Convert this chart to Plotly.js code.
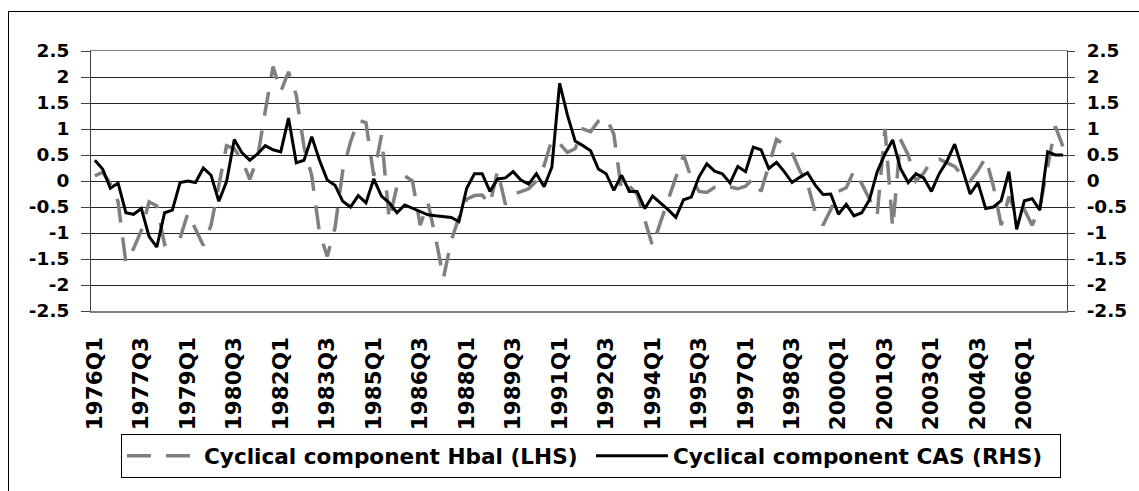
<!DOCTYPE html>
<html>
<head>
<meta charset="utf-8">
<script src="https://cdn.plot.ly/plotly-3.0.1.min.js"></script>
<style>
  body { margin: 0; background: #fff; }
  #wrap { position: relative; width: 1139px; height: 491px; overflow: hidden; }
  #plotly-div { width: 1139px; height: 491px; }
  /* outer chart frame: only its left and top edges fall inside the picture */
  #frame { position: absolute; left: 8px; top: 11px; width: 1200px; height: 600px;
           border-left: 1px solid #000; border-top: 1px solid #000; pointer-events: none; }
</style>
</head>
<body>
<div id="wrap">
  <div id="plotly-div"></div>
  <div id="frame"></div>
</div>
<script>
// Quarterly categories, 1976Q1 .. 2007Q2
var firstYear = 1976;
var nQuarters = 126;
var quarters = [];
for (var yr = firstYear; quarters.length < nQuarters; yr++) {
  for (var q = 1; q <= 4 && quarters.length < nQuarters; q++) {
    quarters.push(yr + 'Q' + q);
  }
}

// Labelled categories on the x axis
var xTickLabels = ['1976Q1', '1977Q3', '1979Q1', '1980Q3', '1982Q1', '1983Q3', '1985Q1',
  '1986Q3', '1988Q1', '1989Q3', '1991Q1', '1992Q3', '1994Q1', '1995Q3', '1997Q1',
  '1998Q3', '2000Q1', '2001Q3', '2003Q1', '2004Q3', '2006Q1'];

// Value axes (both sides share the same scale)
var yTickVals = [-2.5, -2, -1.5, -1, -0.5, 0, 0.5, 1, 1.5, 2, 2.5];
var yTickText = ['-2.5', '-2', '-1.5', '-1', '-0.5', '0', '0.5', '1', '1.5', '2', '2.5'];

// Cyclical component Hbal (LHS)
var hbal = [
  0.10, 0.17, -0.05, -0.40, -1.57, -1.30, -0.95, -0.40, -0.48, -1.22,
  -1.15, -1.10, -0.62, -0.93, -1.24, -0.85, -0.05, 0.68, 0.62, 0.40,
  0.03, 0.45, 1.35, 2.20, 1.72, 2.10, 1.65, 0.65, 0.10, -1.00,
  -1.45, -0.90, 0.20, 0.75, 1.17, 1.12, 0.10, 0.88, -0.75, -0.10,
  0.10, 0.00, -0.85, -0.42, -1.10, -1.87, -1.15, -0.70, -0.35, -0.28,
  -0.27, -0.45, 0.20, -0.45, -0.26, -0.20, -0.15, 0.00, 0.30, 0.80,
  0.72, 0.55, 0.62, 1.00, 0.95, 1.15, 1.22, 0.90, -0.20, -0.10,
  -0.25, -0.75, -1.25, -0.80, -0.35, 0.05, 0.50, 0.05, -0.20, -0.22,
  -0.12, -0.08, -0.12, -0.15, -0.10, 0.05, -0.20, 0.30, 0.80, 0.70,
  0.55, 0.20, -0.05, -0.60, -0.85, -0.55, -0.20, -0.13, 0.20, -0.05,
  -0.35, -0.65, 1.00, -0.90, 0.80, 0.50, 0.00, 0.15, 0.40, 0.42,
  0.35, 0.28, 0.10, 0.00, 0.20, 0.45, -0.10, -0.85, -0.30, -0.65,
  -0.55, -0.85, -0.50, 0.30, 1.05, 0.65
];

// Cyclical component CAS (RHS)
var cas = [
  0.40, 0.23, -0.14, -0.04, -0.61, -0.64, -0.53, -1.07, -1.27, -0.61,
  -0.56, -0.03, 0.00, -0.03, 0.25, 0.11, -0.39, -0.01, 0.80, 0.54,
  0.40, 0.52, 0.68, 0.60, 0.56, 1.21, 0.35, 0.40, 0.85, 0.40,
  0.02, -0.08, -0.39, -0.50, -0.28, -0.42, 0.04, -0.29, -0.42, -0.61,
  -0.46, -0.52, -0.58, -0.65, -0.67, -0.69, -0.70, -0.78, -0.14, 0.14,
  0.14, -0.20, 0.04, 0.06, 0.18, 0.02, -0.06, 0.14, -0.11, 0.27,
  1.88, 1.27, 0.77, 0.68, 0.58, 0.23, 0.14, -0.18, 0.11, -0.20,
  -0.20, -0.53, -0.29, -0.42, -0.55, -0.70, -0.36, -0.31, 0.08, 0.33,
  0.19, 0.14, -0.04, 0.28, 0.18, 0.65, 0.60, 0.24, 0.36, 0.18,
  -0.03, 0.07, 0.16, -0.08, -0.26, -0.25, -0.64, -0.45, -0.67, -0.61,
  -0.36, 0.18, 0.52, 0.79, 0.24, -0.03, 0.14, 0.06, -0.20, 0.14,
  0.38, 0.71, 0.24, -0.25, -0.03, -0.53, -0.50, -0.38, 0.18, -0.93,
  -0.38, -0.34, -0.56, 0.56, 0.50, 0.50
];

var fontFamily = 'DejaVu Sans, Arial, sans-serif';

var hbalTrace = {
  x: quarters,
  y: hbal,
  name: 'Cyclical component Hbal (LHS)',
  type: 'scatter',
  mode: 'lines',
  yaxis: 'y',
  line: {color: '#808080', width: 3.5, dash: '24px,15px'}
};

var casTrace = {
  x: quarters,
  y: cas,
  name: 'Cyclical component CAS (RHS)',
  type: 'scatter',
  mode: 'lines',
  yaxis: 'y2',
  line: {color: '#000000', width: 3}
};

var yTickFont = {family: fontFamily, size: 18.5, weight: 'bold', color: '#000'};

var layout = {
  width: 1139,
  height: 491,
  margin: {l: 91, r: 72, t: 51, b: 174, pad: 0},
  paper_bgcolor: '#ffffff',
  plot_bgcolor: '#ffffff',
  showlegend: true,
  legend: {
    orientation: 'h',
    x: 0.0307,
    y: -0.643,
    xanchor: 'left',
    yanchor: 'bottom',
    bordercolor: '#000',
    borderwidth: 1,
    itemwidth: 72,
    entrywidth: 382,
    font: {family: fontFamily, size: 21.6, weight: 'bold', color: '#000'}
  },
  xaxis: {
    type: 'category',
    range: [-0.5, nQuarters - 0.5],
    tickmode: 'array',
    tickvals: xTickLabels,
    ticktext: xTickLabels,
    tickangle: -90,
    ticks: '',
    ticklabelstandoff: 16,
    tickfont: {family: fontFamily, size: 21.5, weight: 'bold', color: '#000'},
    showgrid: false,
    zeroline: false,
    showline: true,
    mirror: true,
    linecolor: '#808080',
    linewidth: 1.5
  },
  yaxis: {
    range: [-2.5, 2.5],
    tickmode: 'array',
    tickvals: yTickVals,
    ticktext: yTickText,
    ticks: 'outside',
    ticklen: 9,
    tickcolor: '#404040',
    ticklabelstandoff: 8,
    tickfont: yTickFont,
    showgrid: true,
    gridcolor: '#262626',
    gridwidth: 1,
    zeroline: false,
    showline: true,
    linecolor: '#404040',
    linewidth: 1
  },
  yaxis2: {
    overlaying: 'y',
    side: 'right',
    range: [-2.5, 2.5],
    tickmode: 'array',
    tickvals: yTickVals,
    ticktext: yTickText,
    ticks: 'outside',
    ticklen: 7,
    tickcolor: '#404040',
    ticklabelstandoff: 8,
    tickfont: yTickFont,
    showgrid: false,
    zeroline: false,
    showline: true,
    linecolor: '#404040',
    linewidth: 1
  }
};

Plotly.newPlot('plotly-div', [hbalTrace, casTrace], layout, {staticPlot: true, displayModeBar: false});
</script>
</body>
</html>
